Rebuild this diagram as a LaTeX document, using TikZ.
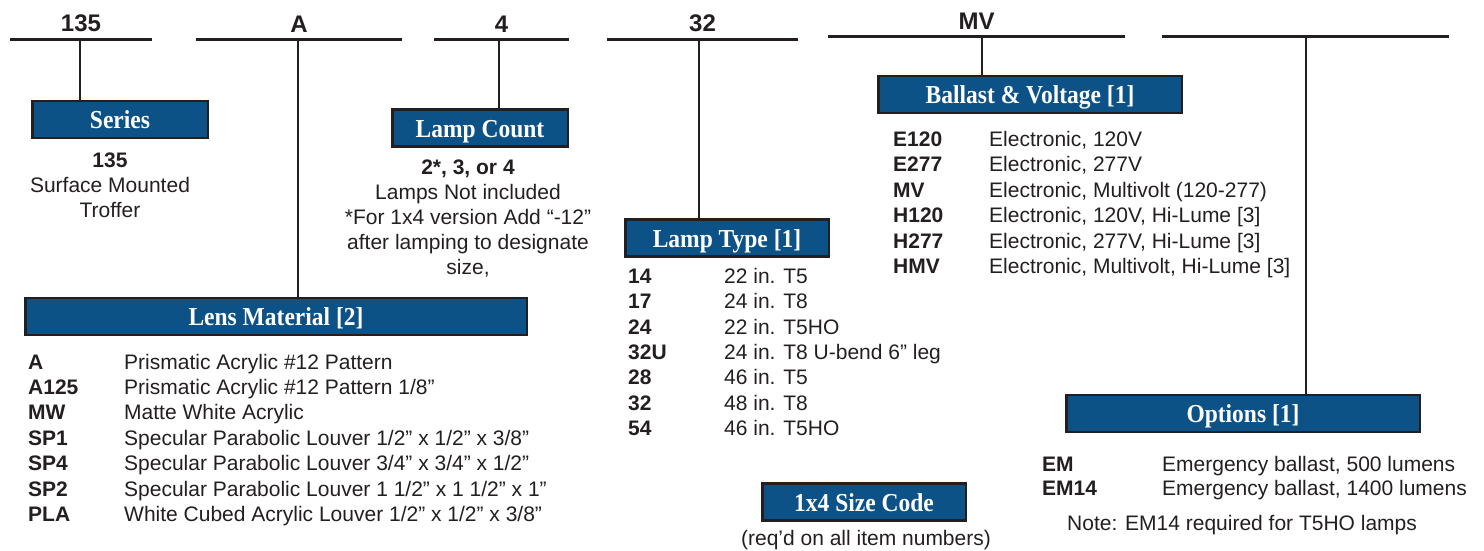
\documentclass[tikz,border=0pt]{standalone}
\usepackage{fontspec}
\setmainfont{Liberation Sans}
\newfontfamily\titlefont{Liberation Serif}
\usetikzlibrary{positioning}
\definecolor{ink}{HTML}{231F20}
\definecolor{hdrblue}{HTML}{0C5287}
\newcommand{\hdrtext}[1]{\scalebox{1}[1.1]{#1}}

\begin{document}
\begin{tikzpicture}[x=1pt,y=-1pt,
  rule/.style={draw=ink,line width=3pt},
  stem/.style={draw=ink,line width=2.2pt},
  poslabel/.style={above=5.5pt,inner sep=0pt,text=ink,font=\bfseries\fontsize{24}{24}\selectfont},
  hdr/.style={draw=ink,line width=2.5pt,fill=hdrblue,text=white,minimum height=37,inner sep=0pt,
    text height=20,text depth=2,font=\titlefont\bfseries\fontsize{23.5}{24}\selectfont},
  code/.style={anchor=base west,inner sep=0pt,text=ink,font=\bfseries\fontsize{21}{25}\selectfont},
  desc/.style={anchor=base west,inner sep=0pt,text=ink,font=\fontsize{21}{25}\selectfont},
  note/.style={anchor=base,inner sep=0pt,text=ink,font=\fontsize{21}{25}\selectfont}]
\useasboundingbox (0,0) rectangle (1484,550);

% catalogue number positions
\draw[rule] (10,39) -- node[poslabel] (p135) {135} (152,39);
\draw[rule] (196,39) -- node[poslabel] (pA) {A} (402,39);
\draw[rule] (434,39) -- node[poslabel] (p4) {4} (569,39);
\draw[rule] (607,39) -- node[poslabel] (p32) {32} (798,39);
\draw[rule] (828,36) -- node[poslabel] (pMV) {MV} (1125,36);
\draw[rule] (1162,36) -- (1449,36);
\coordinate (t135) at (80,39);
\coordinate (tA) at (298,39);
\coordinate (t4) at (499,39);
\coordinate (t32) at (699,39);
\coordinate (tMV) at (982,36);
\coordinate (tOpt) at (1306,36);

% header boxes
\node[hdr,minimum width=175.5] (series) at (120,119.5) {\hdrtext{Series}};
\node[hdr,minimum width=175.5] (count) at (480,128) {\hdrtext{Lamp Count}};
\node[hdr,minimum width=501.5] (lens) at (276,316.5) {\hdrtext{Lens Material [2]}};
\node[hdr,minimum width=203.5] (ltype) at (727,238) {\hdrtext{Lamp Type [1]}};
\node[hdr,minimum width=303.5] (ballast) at (1030,94.5) {\hdrtext{Ballast \& Voltage [1]}};
\node[hdr,minimum width=203.5] (size) at (864,502) {\hdrtext{1x4 Size Code}};
\node[hdr,minimum width=353.5] (options) at (1243,413.5) {\hdrtext{Options [1]}};

% stems
\draw[stem] (t135) -- (t135 |- series.north);
\draw[stem] (tA) -- (tA |- lens.north);
\draw[stem] (t4) -- (t4 |- count.north);
\draw[stem] (t32) -- (t32 |- ltype.north);
\draw[stem] (tMV) -- (tMV |- ballast.north);
\draw[stem] (tOpt) -- (tOpt |- options.north);

% series
\node[note,font=\bfseries\fontsize{21}{25}\selectfont] (s1) at (110,167.5) {135};
\node[note] (s2) at (110,192.5) {Surface Mounted};
\node[note] (s3) at (110,217.5) {Troffer};

% lamp count
\node[note,font=\bfseries\fontsize{21}{25}\selectfont] (c1) at (468,174.5) {2*, 3, or 4};
\node[note] (c2) at (468,199.5) {Lamps Not included};
\node[note] (c3) at (468,224.5) {*For 1x4 version Add “-12”};
\node[note] (c4) at (468,249.5) {after lamping to designate};
\node[note] (c5) at (468,274.5) {size,};

% lens material
\foreach \c/\d [count=\i from 0] in {A/{Prismatic Acrylic \#12 Pattern},
    A125/{Prismatic Acrylic \#12 Pattern 1/8”},
    MW/{Matte White Acrylic},
    SP1/{Specular Parabolic Louver 1/2” x 1/2” x 3/8”},
    SP4/{Specular Parabolic Louver 3/4” x 3/4” x 1/2”},
    SP2/{Specular Parabolic Louver 1 1/2” x 1 1/2” x 1”},
    PLA/{White Cubed Acrylic Louver 1/2” x 1/2” x 3/8”}} {
  \node[code] (lc\i) at (28,369+25.4*\i) {\c};
  \node[desc] (ld\i) at (124,369+25.4*\i) {\d};
}

% lamp type
\foreach \c/\d [count=\i from 0] in {14/22 in. T5, 17/24 in. T8, 24/22 in. T5HO,
    32U/24 in. T8 U-bend 6” leg, 28/46 in. T5, 32/48 in. T8, 54/46 in. T5HO} {
  \node[code] (tc\i) at (628,283.2+25.4*\i) {\c};
  \node[desc] (td\i) at (724,283.2+25.4*\i) {\d};
}

% ballast & voltage
\foreach \c/\d [count=\i from 0] in {E120/{Electronic, 120V}, E277/{Electronic, 277V},
    MV/{Electronic, Multivolt (120-277)}, H120/{Electronic, 120V, Hi-Lume [3]},
    H277/{Electronic, 277V, Hi-Lume [3]}, HMV/{Electronic, Multivolt, Hi-Lume [3]}} {
  \node[code] (bc\i) at (893,146.5+25.4*\i) {\c};
  \node[desc] (bd\i) at (989,146.5+25.4*\i) {\d};
}

% options
\node[code] (oc0) at (1042,471.5) {EM};
\node[desc] (od0) at (1162,471.5) {Emergency ballast, 500 lumens};
\node[code] (oc1) at (1042,495.8) {EM14};
\node[desc] (od1) at (1162,495.8) {Emergency ballast, 1400 lumens};
\node[desc] (onote) at (1067,530.2) {Note: EM14 required for T5HO lamps};

% size code
\node[note] (sz) at (866,545.5) {(req’d on all item numbers)};
\end{tikzpicture}
\end{document}
